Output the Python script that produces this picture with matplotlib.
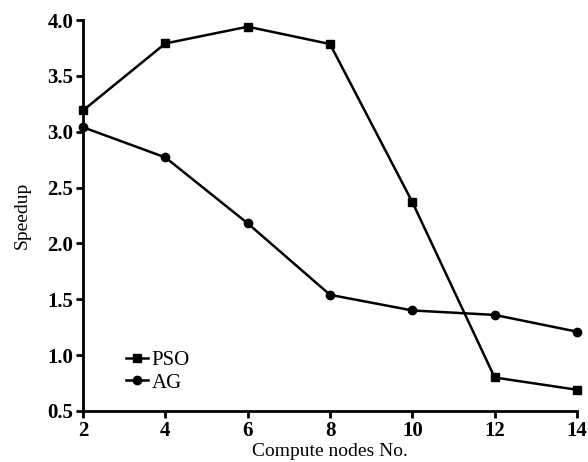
import matplotlib.pyplot as plt

plt.rcParams['font.family'] = ['Liberation Serif', 'DejaVu Serif']

nodes = [2, 4, 6, 8, 10, 12, 14]
pso = [3.19, 3.79, 3.94, 3.785, 2.37, 0.80, 0.69]
ag = [3.04, 2.77, 2.18, 1.54, 1.40, 1.36, 1.21]
yticks = [0.5, 1.0, 1.5, 2.0, 2.5, 3.0, 3.5, 4.0]

fig = plt.figure(figsize=(5.88, 4.62), dpi=100)
ax = fig.add_axes([83 / 588, 1 - 411 / 462, (577 - 83) / 588, (411 - 20) / 462])

ax.plot(nodes, pso, color='black', lw=1.8, marker='s', ms=5.5, label='PSO', clip_on=False)
ax.plot(nodes, ag, color='black', lw=1.8, marker='o', ms=6, label='AG', clip_on=False)

ax.set_xlim(2, 14)
ax.set_ylim(0.5, 4.0)
ax.set_xticks(nodes)
ax.set_yticks(yticks)
ax.set_yticklabels([f'{v:.1f}' for v in yticks])
for s in ['top', 'right']:
    ax.spines[s].set_visible(False)
for s in ['left', 'bottom']:
    ax.spines[s].set_linewidth(2)
ax.tick_params(direction='out', length=5, width=2, labelsize=15, pad=2)
for lbl in ax.get_xticklabels() + ax.get_yticklabels():
    lbl.set_fontweight('bold')

ax.set_xlabel('Compute nodes No.', fontsize=14, labelpad=2)
ax.set_ylabel('Speedup', fontsize=14, labelpad=12)

ax.legend(loc='lower left', bbox_to_anchor=(0.065, 0.02), frameon=False,
          prop={'size': 15},
          handlelength=1.1, handletextpad=0.15, labelspacing=0.15, borderpad=0)

fig.savefig('out.png', dpi=100)
